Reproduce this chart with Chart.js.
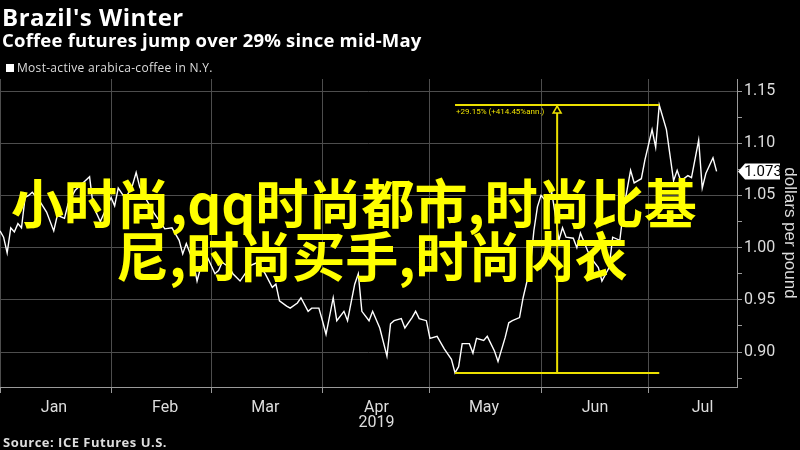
<!DOCTYPE html>
<html>
<head>
<meta charset="utf-8">
<script src="https://cdn.jsdelivr.net/npm/chart.js@4"></script>
<style>
html,body{margin:0;padding:0;background:#000;}
#wrap{position:relative;width:800px;height:450px;overflow:hidden;background:#000;}
#c{position:absolute;left:0;top:0;}
.t{position:absolute;white-space:nowrap;line-height:1;}
#title{left:2px;top:0px;font:bold 24px 'Open Sans',sans-serif;letter-spacing:0.5px;color:#fff;}
#subtitle{left:2px;top:27px;font:bold 18.5px 'Open Sans',sans-serif;letter-spacing:0.2px;color:#fff;}
#legsq{position:absolute;left:6px;top:64px;width:8px;height:8px;background:#fff;}
#legtx{left:17px;top:59px;font:12px 'Open Sans',sans-serif;letter-spacing:0.3px;color:#ddd;}
#source{left:3px;top:433px;font:bold 13px 'Open Sans',sans-serif;letter-spacing:0.5px;color:#ddd;}
.ov{position:absolute;white-space:nowrap;line-height:1;font:bold 53px 'Noto Sans CJK SC',sans-serif;color:#ffff00;z-index:5;}
#ov1{left:11px;top:163px;}
#ov2{left:116px;top:216px;}
</style>
</head>
<body>
<div id="wrap">
<canvas id="c" width="800" height="450"></canvas>
<div class="t" id="title">Brazil's Winter</div>
<div class="t" id="subtitle">Coffee futures jump over 29% since mid-May</div>
<div id="legsq"></div>
<div class="t" id="legtx"></div>
<div class="t" id="source">Source: ICE Futures U.S.</div>
<div class="ov" id="ov1">小时尚,qq时尚都市,时尚比基</div>
<div class="ov" id="ov2">尼,时尚买手,时尚内衣</div>
</div>
<script>
// days since 2019-01-01
const dayNumbers = [0,1,2,3,4,5,6,7,8,9,
11,13,15,16,18,19,21,25,26,28,
31,32,33,35,37,38,39,41,43,45,
46,48,50,51,52,54,55,56,58,60,
61,62,64,65,67,69,70,72,74,76,
77,78,80,81,83,84,86,87,89,90,
91,93,94,96,97,99,100,101,103,104,
106,108,109,110,112,113,115,116,117,119,
120,122,123,124,126,127,128,129,131,132,
133,135,136,138,139,141,142,143,145,146,
148,149,150,151,153,154,155,156,157,158,
160,161,162,164,165,167,168,170,171,173,
174,176,177,179,180,182,183,184,186,188,
189,190,192,193,195,196,197,199,200];
// dollars per pound
const prices = [1.016,1.010,0.995,1.019,1.015,1.023,1.019,1.048,1.050,1.053,
1.045,1.034,1.016,1.031,1.028,1.042,1.055,1.068,1.040,1.025,
1.048,1.040,1.057,1.047,1.060,1.072,1.058,1.045,1.033,1.023,
1.018,1.019,1.007,0.994,1.004,0.986,0.968,0.981,0.990,0.975,
0.978,0.986,0.981,0.975,0.968,0.978,0.983,0.986,0.975,0.962,
0.965,0.949,0.944,0.942,0.947,0.952,0.939,0.942,0.942,0.930,
0.917,0.952,0.930,0.939,0.930,0.965,0.975,0.939,0.930,0.939,
0.923,0.896,0.927,0.930,0.932,0.923,0.933,0.939,0.932,0.930,
0.913,0.915,0.909,0.903,0.893,0.880,0.886,0.908,0.908,0.899,
0.913,0.911,0.915,0.901,0.891,0.914,0.928,0.930,0.933,0.952,
0.981,1.016,1.039,1.050,1.042,1.053,1.031,1.007,1.019,1.010,
1.009,1.000,1.014,0.997,0.990,0.981,0.968,0.981,1.010,1.007,
1.036,1.074,1.062,1.066,1.084,1.113,1.096,1.1365,1.113,1.064,
1.074,1.064,1.069,1.067,1.103,1.057,1.071,1.086,1.073];
const monthStartDays = [0,31,59,90,120,151,181];
const monthLabels = ['Jan','Feb','Mar',['Apr','2019'],'May','Jun','Jul'];
const priceTicks = [0.875,0.9,0.925,0.95,0.975,1.0,1.025,1.05,1.075,1.1,1.125,1.15];
const priceTickLabels = ['','0.90','','0.95','','1.00','','1.05','','1.10','','1.15'];
const seriesName = 'Most-active arabica-coffee in N.Y.';
const axisTitle = 'dollars per pound';
const annotationText = '+29.15% (+414.45%ann.)';

document.getElementById('legtx').textContent = seriesName;

const ANN = '#ece000';
const TICKFAM = "Roboto,'Liberation Sans',sans-serif";

// annotation endpoints from the data (low before the peak)
let hiIdx = 0;
prices.forEach((p,i)=>{ if (p > prices[hiIdx]) hiIdx = i; });
let loIdx = 0;
for (let i = 0; i <= hiIdx; i++) if (prices[i] < prices[loIdx]) loIdx = i;
const lowDay = dayNumbers[loIdx], highDay = dayNumbers[hiIdx];
const lowVal = prices[loIdx], highVal = prices[hiIdx];
const midDay = (lowDay + highDay) / 2;

const marksPlugin = {
  id: 'marks',
  afterDatasetsDraw(chart) {
    const {ctx, scales:{x, y}} = chart;
    ctx.save();
    const px = x.getPixelForValue(midDay), py = y.getPixelForValue(highVal);
    ctx.beginPath();
    ctx.moveTo(px, py + 1); ctx.lineTo(px + 4, py + 8); ctx.lineTo(px - 4, py + 8); ctx.closePath();
    ctx.fillStyle = '#000'; ctx.fill();
    ctx.strokeStyle = ANN; ctx.lineWidth = 1.5; ctx.stroke();
    ctx.fillStyle = ANN;
    ctx.font = "8px " + TICKFAM;
    ctx.textAlign = 'left'; ctx.textBaseline = 'middle';
    ctx.fillText(annotationText, x.getPixelForValue(lowDay) + 1, py + 7);
    ctx.restore();
  },
  afterDraw(chart) {
    const {ctx, scales:{y}, chartArea} = chart;
    const last = prices[prices.length - 1];
    const ly = Math.round(y.getPixelForValue(last)) + 0.5;
    const l = chartArea.right + 1;
    ctx.save();
    ctx.beginPath();
    ctx.moveTo(l, ly); ctx.lineTo(l + 7, ly - 8); ctx.lineTo(l + 42, ly - 8);
    ctx.lineTo(l + 42, ly + 8); ctx.lineTo(l + 7, ly + 8); ctx.closePath();
    ctx.fillStyle = '#fff'; ctx.fill();
    ctx.fillStyle = '#000';
    ctx.font = "15px " + TICKFAM;
    ctx.textAlign = 'center'; ctx.textBaseline = 'middle';
    ctx.fillText(last.toFixed(3), l + 25, ly + 1);
    ctx.restore();
  }
};

const tickFont = {family: TICKFAM, size: 16, lineHeight: 0.95};

new Chart(document.getElementById('c'), {
  type: 'line',
  data: {
    datasets: [
      {label: seriesName, data: dayNumbers.map((d,i)=>({x:d, y:prices[i]})),
       borderColor: '#fff', borderWidth: 1.4, pointRadius: 0, tension: 0, order: 1},
      {label: 'low', data: [{x:lowDay,y:lowVal},{x:highDay,y:lowVal}],
       borderColor: ANN, borderWidth: 2, pointRadius: 0, order: 0},
      {label: 'high', data: [{x:lowDay,y:highVal},{x:highDay,y:highVal}],
       borderColor: ANN, borderWidth: 2, pointRadius: 0, order: 0},
      {label: 'span', data: [{x:midDay,y:lowVal},{x:midDay,y:highVal}],
       borderColor: ANN, borderWidth: 2, pointRadius: 0, order: 0}
    ]
  },
  options: {
    responsive: false, animation: false, devicePixelRatio: 1,
    layout: {padding: {top: 79, left: 0, right: 0, bottom: 0}},
    plugins: {legend: {display: false}, tooltip: {enabled: false}, title: {display: false}},
    scales: {
      x: {
        type: 'linear', position: 'bottom', min: 0, max: 205.7,
        afterBuildTicks: s => { s.ticks = monthStartDays.map(v => ({value: v})); },
        afterFit: s => { s.paddingLeft = 0; s.paddingRight = 0; s.height = 63; },
        grid: {color: '#4d4d4d', lineWidth: 1, borderDash: [1, 3], tickLength: 6, tickColor: '#9a9a9a', tickBorderDash: []},
        border: {display: true, color: '#9a9a9a', width: 1},
        ticks: {autoSkip: false, maxRotation: 0, minRotation: 0, labelOffset: 54, padding: 7,
                color: '#ddd', font: tickFont, callback: (v, i) => monthLabels[i]}
      },
      y: {
        type: 'linear', position: 'right', min: 0.8665, max: 1.1615,
        afterBuildTicks: s => { s.ticks = priceTicks.map(v => ({value: v})); },
        afterFit: s => { s.width = 63; s.paddingTop = 0; s.paddingBottom = 0; },
        grid: {color: c => priceTickLabels[c.index] ? '#4d4d4d' : 'rgba(0,0,0,0)', borderDash: [1, 3],
               tickLength: 5, tickColor: '#9a9a9a', tickBorderDash: []},
        border: {display: true, color: '#9a9a9a', width: 1},
        ticks: {padding: 2, color: '#ddd', font: tickFont, callback: (v, i) => priceTickLabels[i]},
        title: {display: true, text: axisTitle, color: '#ddd',
                font: {family: "'Liberation Sans',Arial,sans-serif", size: 17}, padding: {top: 0, bottom: 2}}
      }
    }
  },
  plugins: [marksPlugin]
});
</script>
</body>
</html>
